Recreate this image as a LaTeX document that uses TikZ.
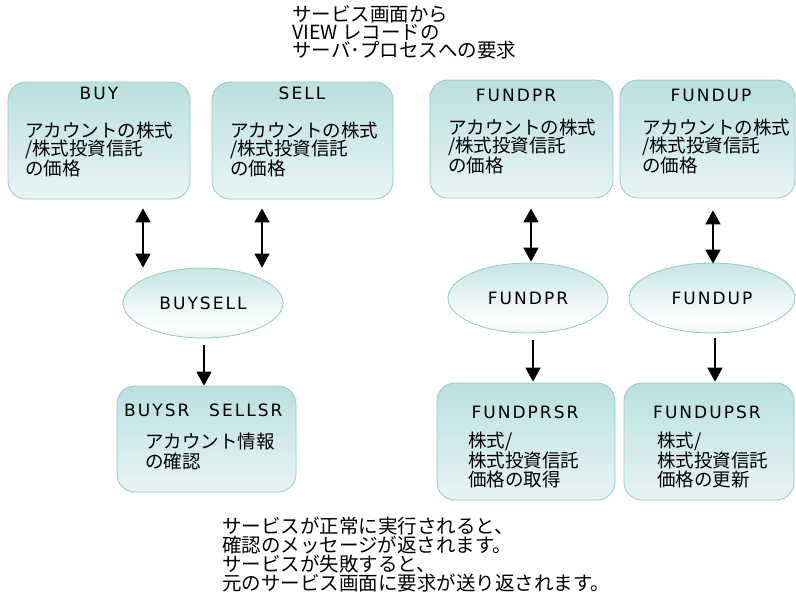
\documentclass[tikz,border=0pt]{standalone}
\usepackage{fontspec}
\setmainfont{Noto Sans CJK JP}
\newfontfamily\latf[LetterSpace=12]{DejaVu Sans}
\usetikzlibrary{arrows.meta,shapes.geometric,calc}
\definecolor{tealT}{HTML}{A4D5D5}
\definecolor{tealL}{HTML}{E8F4F4}
\definecolor{tealB}{HTML}{9CCFCF}
\definecolor{tealE}{HTML}{8FC9C9}
\pgfdeclareverticalshading{boxsh}{100bp}{color(0bp)=(tealB); color(8bp)=(tealB!60!tealL); color(25bp)=(tealL); color(100bp)=(tealT)}
\pgfdeclareverticalshading{ellsh}{100bp}{color(0bp)=(tealB); color(33bp)=(white); color(100bp)=(tealT)}
\tikzset{
  box/.style={rectangle, rounded corners=18pt, shading=boxsh, draw=tealE, line width=0.8pt, inner sep=0pt},
  oval/.style={ellipse, shading=ellsh, draw=tealE, line width=0.8pt, minimum width=160pt, minimum height=70pt, inner sep=0pt, font=\latf\fontsize{17}{18}\selectfont},
  jp/.style={font=\fontsize{18.5}{18.5}\selectfont, align=left, inner sep=0pt, anchor=base west},
  jpnote/.style={font=\fontsize{19.5}{18}\selectfont, align=left, inner sep=0pt, anchor=base west},
  lat/.style={font=\latf\fontsize{17}{18}\selectfont, inner sep=0pt, anchor=base},
  dbl/.style={{Triangle[width=15pt,length=14pt]}-{Triangle[width=15pt,length=14pt]}, line width=1.6pt},
  sgl/.style={-{Triangle[width=15pt,length=14pt]}, line width=1.6pt}
}
\begin{document}
\begin{tikzpicture}[x=1pt,y=-1pt]
\useasboundingbox (0,0) rectangle (796,606);
\fill[white] (0,0) rectangle (796,606);

% top boxes
\node[box, minimum width=182pt, minimum height=117pt] (buy) at (99,140.5) {};
\node[box, minimum width=181pt, minimum height=117pt] (sell) at (302.5,140.5) {};
\node[box, minimum width=183pt, minimum height=118pt] (fpr) at (521.5,139) {};
\node[box, minimum width=175pt, minimum height=118pt] (fup) at (707.5,139) {};

% ellipses
\node[oval] (bs) at (203,303) {BUYSELL};
\node[oval] (fpe) at (528,298) {FUNDPR};
\node[oval, minimum width=166pt] (fue) at (712,298) {FUNDUP};

% bottom boxes
\node[box, minimum width=179pt, minimum height=106pt] (bsr) at (206.5,439) {};
\node[box, minimum width=178pt, minimum height=117pt] (fprsr) at (526,441.5) {};
\node[box, minimum width=170pt, minimum height=117pt] (fupsr) at (709,441.5) {};

% labels in top boxes
\node[lat] (buyT) at (99,99.2) {BUY};
\node[lat] (sellT) at (302,99.2) {SELL};
\node[lat] (fprT) at (516,101.2) {FUNDPR};
\node[lat] (fupT) at (711,101.2) {FUNDUP};
% multi-line nodes: base anchor = last line baseline
\node[jp] (buyJ) at (25,175.8) {アカウントの株式\\/株式投資信託\\の価格};
\node[jp] (sellJ) at (230,175.8) {アカウントの株式\\/株式投資信託\\の価格};
\node[jp] (fprJ) at (448,172.8) {アカウントの株式\\/株式投資信託\\の価格};
\node[jp] (fupJ) at (642,172.8) {アカウントの株式\\/株式投資信託\\の価格};

% labels in bottom boxes
\node[lat, anchor=base west] (bsrA) at (124,416.2) {BUYSR};
\node[lat, anchor=base west] (bsrB) at (209,416.2) {SELLSR};
\node[lat] (fprsrT) at (525,418.2) {FUNDPRSR};
\node[lat] (fupsrT) at (707,418.2) {FUNDUPSR};
\node[jp, font=\fontsize{18.5}{20}\selectfont] (bsrJ) at (145,468.8) {アカウント情報\\の確認};
\node[jp, font=\fontsize{18.5}{19.5}\selectfont] (fprsrJ) at (468,486.8) {株式/\\株式投資信託\\価格の取得};
\node[jp, font=\fontsize{18.5}{19.5}\selectfont] (fupsrJ) at (657,486.8) {株式/\\株式投資信託\\価格の更新};

% notes
\node[jpnote] (topnote) at (292,57.8) {サービス画面から\\VIEW レコードの\\サーバ･プロセスへの要求};
\node[jpnote, font=\fontsize{19.5}{17.6}\selectfont] (botnote) at (222,590.6) {サービスが正常に実行されると、\\確認のメッセージが返されます。\\サービスが失敗すると、\\元のサービス画面に要求が送り返されます。};

% connectors
\draw[dbl] ($(buy.south)+(44,9)$) -- ($(bs.north)+(-60,0)$);
\draw[dbl] ($(sell.south)+(-40.5,9)$) -- ($(bs.north)+(59,0)$);
\draw[dbl] ($(fpr.south)+(9.5,10)$) -- ($(fpe.north)+(3,-1)$);
\draw[dbl] ($(fup.south)+(5.5,12)$) -- ($(fue.north)+(1,1)$);
\draw[sgl] ($(bs.south)+(1,7)$) -- ($(bsr.north)+(-2.5,0)$);
\draw[sgl] ($(fpe.south)+(5,7)$) -- ($(fprsr.north)+(7,-1)$);
\draw[sgl] ($(fue.south)+(3,5)$) -- ($(fupsr.north)+(6,-1)$);
\end{tikzpicture}
\end{document}
